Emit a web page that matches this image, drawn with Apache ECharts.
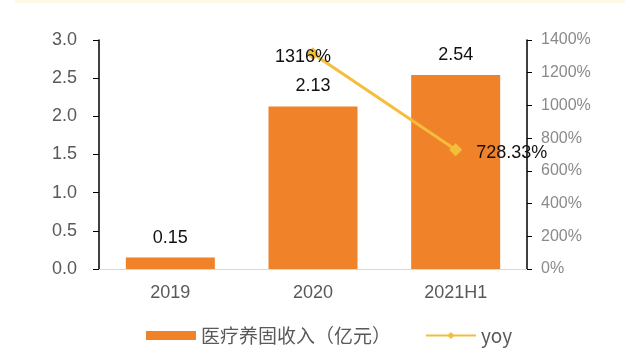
<!DOCTYPE html>
<html><head><meta charset="utf-8">
<script src="https://cdn.jsdelivr.net/npm/echarts@6/dist/echarts.min.js"></script>
<style>html,body{margin:0;padding:0;background:#fff;}#c{width:640px;height:357px;}</style>
</head><body><div id="c"></div>
<script>
var categories = ['2019', '2020', '2021H1'];
var revenue = [0.15, 2.13, 2.54];
var yoy = [null, 1316, 728.33];
var yoyLabels = ['', '1316%', '728.33%'];
var leftTicks = [0, 0.5, 1.0, 1.5, 2.0, 2.5, 3.0];
var rightTicks = [0, 200, 400, 600, 800, 1000, 1200, 1400];

var chart = echarts.init(document.getElementById('c'), null, {renderer: 'canvas'});
var font = '"Liberation Sans", Arial, sans-serif';
chart.setOption({
  backgroundColor: '#fff',
  animation: false,
  graphic: [{type: 'rect', left: 15, top: 0, shape: {width: 610, height: 3}, style: {fill: '#fdf9e6'}}],
  grid: {left: 99, right: 113, top: 40, bottom: 88},
  legend: {
    bottom: 7, left: 141, itemWidth: 50, itemHeight: 9, itemGap: 34,
    textStyle: {fontFamily: '"Noto Sans CJK SC", sans-serif', fontSize: 19, color: '#595959'},
    data: [{name: '医疗养固收入（亿元）', icon: 'rect'}, {name: 'yoy'}]
  },
  xAxis: {
    type: 'category', data: categories,
    axisLine: {lineStyle: {color: '#d9d9d9', width: 1}},
    axisTick: {show: false},
    axisLabel: {fontFamily: font, fontSize: 18, color: '#595959', margin: 15}
  },
  yAxis: [{
    type: 'value', min: 0, max: 3, interval: 0.5,
    axisLine: {show: true, lineStyle: {color: '#000', width: 1.5}},
    axisTick: {show: true, length: 6, lineStyle: {color: '#000'}},
    splitLine: {show: false},
    axisLabel: {fontFamily: font, fontSize: 18, color: '#595959', margin: 22,
      formatter: function (v) { return leftTicks.indexOf(v) >= 0 ? v.toFixed(1) : ''; }}
  }, {
    type: 'value', min: 0, max: 1400, interval: 200, position: 'right',
    axisLine: {show: true, lineStyle: {color: '#000', width: 1.5}},
    axisTick: {show: true, length: 5, lineStyle: {color: '#000'}},
    splitLine: {show: false},
    axisLabel: {fontFamily: font, fontSize: 16, color: '#8a8a8a', margin: 14,
      formatter: function (v) { return rightTicks.indexOf(v) >= 0 ? v + '%' : ''; }}
  }],
  series: [{
    name: '医疗养固收入（亿元）', type: 'bar', data: revenue, barWidth: 89,
    itemStyle: {color: '#F0822A'},
    label: {show: true, position: 'top', distance: 11, fontFamily: font, fontSize: 18, color: '#111',
      formatter: function (p) { return p.value.toFixed(2); }}
  }, {
    name: 'yoy', type: 'line', yAxisIndex: 1, data: yoy,
    itemStyle: {color: '#F5BD3C'},
    lineStyle: {color: '#F5BD3C', width: 3},
    symbol: 'diamond', symbolSize: 13,
    label: {show: true, fontFamily: font, fontSize: 18, color: '#111',
      formatter: function (p) { return yoyLabels[p.dataIndex]; }},
    labelLayout: function (params) {
      if (params.dataIndex === 1) {
        return {x: params.rect.x + params.rect.width / 2 - 38, y: params.rect.y + 1};
      }
      return {x: params.rect.x + 27, y: params.rect.y + 1};
    }
  }]
});
</script></body></html>
